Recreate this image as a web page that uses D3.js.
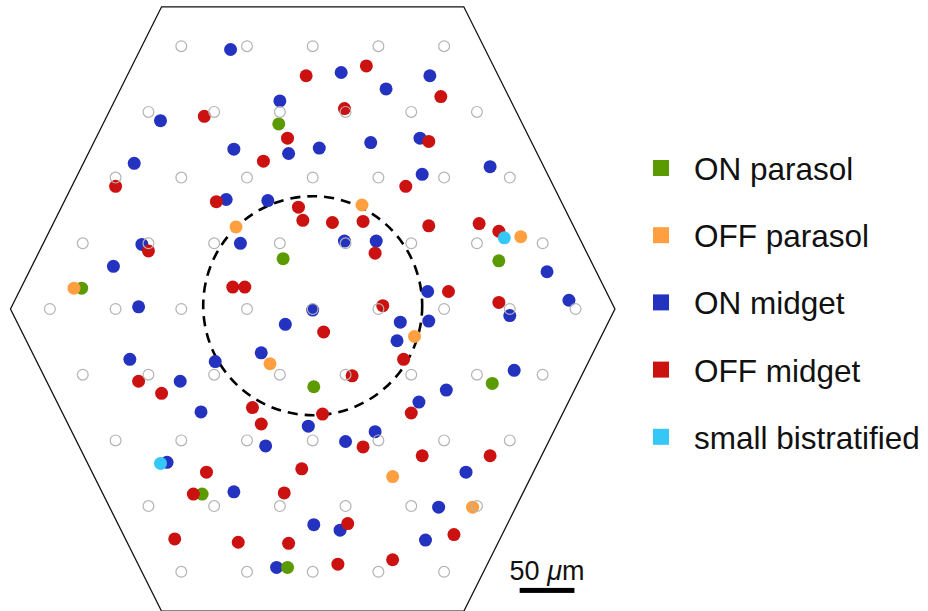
<!DOCTYPE html>
<html lang="en">
<head>
  <meta charset="UTF-8">
  <title>RGC mosaic</title>
  <script src="https://cdn.jsdelivr.net/npm/d3@7"></script>
  <style>
    body { margin: 0; background: #fff; }
    svg text { font-family: "Liberation Sans", Arial, Helvetica, sans-serif; fill: #111; }
  </style>
</head>
<body>
<script>
  // cell types shown in the legend
  var categories = ["ON parasol", "OFF parasol", "ON midget", "OFF midget", "small bistratified"];
  var colors = ["#5b9a00", "#ff9f40", "#2432c0", "#cc1111", "#35c8f6"];

  // cell centres in um, [x, y], y up, origin = array centre
  var onParasol = [[-31,169],[-27,46],[-211,19],[170,44],[1,-71],[164,-68],[-101,-169],[-23,-236]];
  var offParasol = [[45,95],[-70,75],[-218,19],[190,66],[93,-25],[-39,-50],[73,-153],[146,-181]];
  var onMidget = [[-75,237],[26,216],[67,201],[107,213],[-30,190],[-139,172],[98,156],[-72,146],
    [-22,142],[6,147],[53,152],[-163,133],[162,130],[100,123],[-79,100],[-41,99],[-156,59],
    [-66,60],[29,62],[58,62],[-182,39],[214,34],[105,16],[234,8],[-159,2],[0,-1],[180,-6],
    [-25,-14],[80,-12],[106,-11],[77,-29],[-167,-46],[-89,-48],[-47,-40],[184,-56],[-121,-66],
    [122,-74],[-102,-94],[97,-85],[-4,-107],[57,-112],[30,-121],[-43,-125],[-133,-140],
    [140,-149],[-72,-167],[115,-181],[1,-197],[25,-202],[103,-211],[-33,-236]];
  var offMidget = [[-6,213],[49,222],[117,194],[29,183],[-99,176],[-23,156],[106,153],[-45,135],
    [-180,112],[85,112],[-88,98],[-13,93],[-9,81],[18,79],[46,80],[106,76],[152,78],[170,71],
    [-150,53],[57,51],[-73,20],[-62,20],[124,16],[170,6],[64,3],[10,-21],[83,-46],[-159,-66],
    [36,-61],[-138,-77],[-55,-90],[9,-96],[90,-95],[-47,-105],[46,-126],[100,-134],[162,-134],
    [-97,-149],[-10,-146],[-109,-169],[-26,-168],[32,-196],[129,-206],[-126,-210],[-68,-213],
    [-22,-214],[23,-233],[73,-229]];
  var smallBistratified = [[175,65],[-139,-141]];

  // electrode array: hex lattice, 60 um pitch, points per row
  var gridRowCounts = [5, 6, 7, 8, 9, 8, 7, 6, 5];
  var pitch = 60;
  var hexagon = [[-276,0],[-138,276],[138,276],[276,0],[138,-276],[-138,-276]];
  var dashedRadius = 100;      // um
  var scaleBar = [189, 239];   // um, 50 um long
  var scaleBarY = -257;

  var width = 928, height = 611;
  var k = 1.095;               // px per um
  var cx = 312.7, cy = 309;

  var x = d3.scaleLinear().domain([-300, 300]).range([cx - 300 * k, cx + 300 * k]);
  var y = d3.scaleLinear().domain([-300, 300]).range([cy + 300 * k, cy - 300 * k]);

  var svg = d3.select("body").append("svg")
      .attr("width", width)
      .attr("height", height);

  // hexagon outline
  svg.append("polygon")
     .attr("points", hexagon.map(function(p) { return x(p[0]) + "," + y(p[1]); }).join(" "))
     .attr("fill", "none")
     .attr("stroke", "#111")
     .attr("stroke-width", 1.3);

  // dashed 100 um circle
  svg.append("circle")
     .attr("cx", x(0)).attr("cy", y(3))
     .attr("r", x(dashedRadius) - x(0))
     .attr("fill", "none")
     .attr("stroke", "#000")
     .attr("stroke-width", 2.6)
     .attr("stroke-dasharray", "10,7");

  // cells, drawn in this order so overlaps look like the figure
  var layers = [
    { data: onMidget, c: 2 },
    { data: onParasol, c: 0 },
    { data: offMidget, c: 3 },
    { data: offParasol, c: 1 },
    { data: smallBistratified, c: 4 }
  ];
  layers.forEach(function(l) {
    svg.append("g").selectAll("circle")
       .data(l.data)
       .enter().append("circle")
       .attr("cx", function(d) { return x(d[0]); })
       .attr("cy", function(d) { return y(d[1]); })
       .attr("r", 6.5)
       .attr("fill", colors[l.c]);
  });

  // electrodes on top
  var grid = [];
  gridRowCounts.forEach(function(n, i) {
    var yy = (4 - i) * pitch;
    for (var j = 0; j < n; j++) grid.push([(j - (n - 1) / 2) * pitch, yy]);
  });
  svg.append("g").selectAll("circle")
     .data(grid)
     .enter().append("circle")
     .attr("cx", function(d) { return x(d[0]); })
     .attr("cy", function(d) { return y(d[1]); })
     .attr("r", 5.4)
     .attr("fill", "none")
     .attr("stroke", "#b3b3b3")
     .attr("stroke-width", 1.2);

  // scale bar
  svg.append("rect")
     .attr("x", x(scaleBar[0]))
     .attr("y", y(scaleBarY) - 2.5)
     .attr("width", x(scaleBar[1]) - x(scaleBar[0]))
     .attr("height", 5)
     .attr("fill", "#000");
  var sb = svg.append("text")
     .attr("x", (x(scaleBar[0]) + x(scaleBar[1])) / 2)
     .attr("y", 580)
     .attr("text-anchor", "middle")
     .style("font-size", "27px");
  sb.append("tspan").text("50 ");
  sb.append("tspan").style("font-style", "italic").text("\u03bc");
  sb.append("tspan").text("m");

  // legend
  var legend = svg.append("g").selectAll("g")
     .data(categories)
     .enter().append("g")
     .attr("transform", function(d, i) { return "translate(653," + (168 + i * 67.2) + ")"; });
  legend.append("rect")
     .attr("x", 0).attr("y", -8)
     .attr("width", 16).attr("height", 16)
     .attr("fill", function(d, i) { return colors[i]; });
  legend.append("text")
     .attr("x", 41)
     .attr("y", 12)
     .style("font-size", "31.5px")
     .text(function(d) { return d; });
</script>
</body>
</html>
